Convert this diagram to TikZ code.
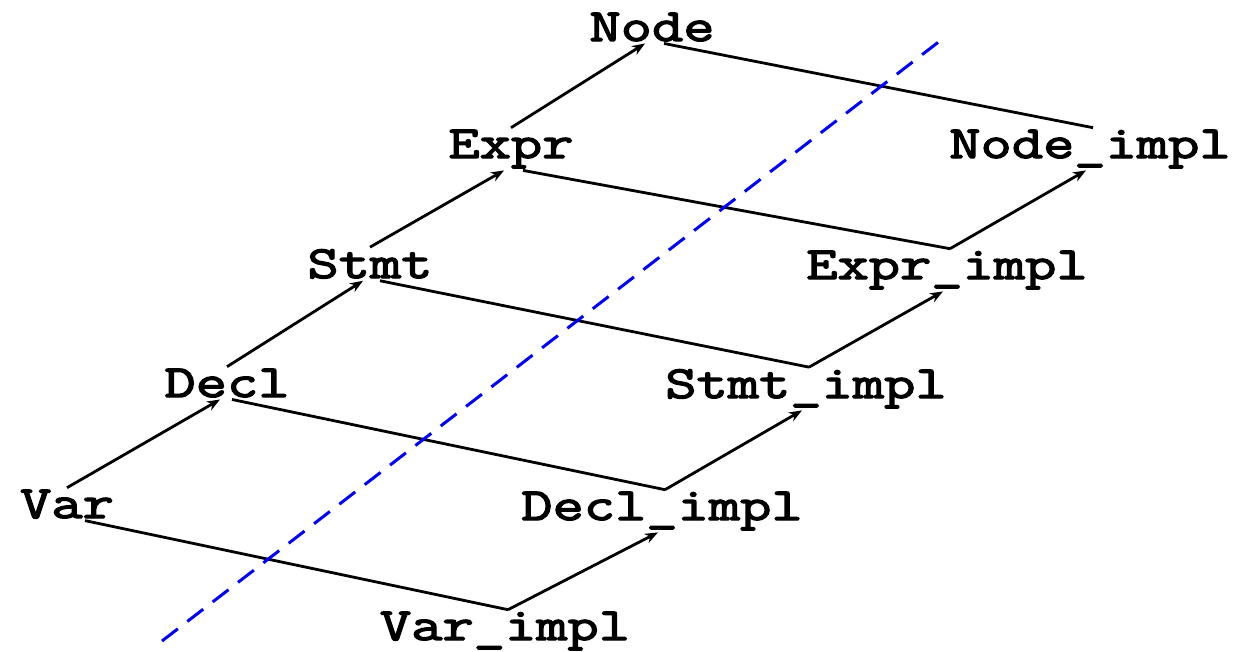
\documentclass[tikz,border=0pt]{standalone}
\usepackage{fontspec}
\newfontfamily\courfont{Latin Modern Mono}[FakeBold=3,FakeStretch=1.32]
\usetikzlibrary{arrows.meta}
\begin{document}
\begin{tikzpicture}[x=1pt,y=-1pt,
  lbl/.style={font=\courfont\fontsize{46}{50}\selectfont, anchor=base, inner sep=2pt},
  conn/.style={line width=2.8pt, black},
  inh/.style={conn, -{Stealth[length=13pt,width=10pt]}},
  cut/.style={line width=3pt, blue, dash pattern=on 20pt off 12pt}]
\useasboundingbox (0,0) rectangle (1238,651);
\node[lbl] (node) at (652,41) {Node};
\node[lbl] (expr) at (511,158) {Expr};
\node[lbl] (stmt) at (370,278) {Stmt};
\node[lbl] (decl) at (227,397) {Decl};
\node[lbl] (var)  at (67,518) {Var};
\node[lbl] (nodei) at (1090,158) {Node\_impl};
\node[lbl] (expri) at (947,279) {Expr\_impl};
\node[lbl] (stmti) at (806,398) {Stmt\_impl};
\node[lbl] (decli) at (662,520) {Decl\_impl};
\node[lbl] (vari)  at (505,640) {Var\_impl};
% left chain
\draw[inh] (var.north) -- ([xshift=-7pt]decl.south);
\draw[inh] (decl.north) -- ([xshift=-7pt]stmt.south);
\draw[inh] (stmt.north) -- ([xshift=-7pt]expr.south);
\draw[inh] (expr.north) -- ([xshift=-7pt]node.south);
% left to right
\draw[conn] ([xshift=12pt]node.south) -- ([xshift=3pt]nodei.north);
\draw[conn] ([xshift=12pt]expr.south) -- ([xshift=3pt]expri.north);
\draw[conn] ([xshift=10pt]stmt.south) -- ([xshift=3pt]stmti.north);
\draw[conn] ([xshift=5pt]decl.south) -- ([xshift=3pt]decli.north);
\draw[conn] ([xshift=18pt]var.south) -- ([xshift=3pt]vari.north);
% right chain
\draw[inh] ([xshift=3pt]vari.north) -- ([xshift=-4pt]decli.south);
\draw[inh] ([xshift=3pt]decli.north) -- ([xshift=-4pt]stmti.south);
\draw[inh] ([xshift=3pt]stmti.north) -- ([xshift=-4pt]expri.south);
\draw[inh] ([xshift=3pt]expri.north) -- ([xshift=-4pt]nodei.south);
% cut line
\coordinate (c1) at (162,641);
\coordinate (c2) at (945,37);
\draw[cut] (c1) -- (c2);
\end{tikzpicture}
\end{document}
